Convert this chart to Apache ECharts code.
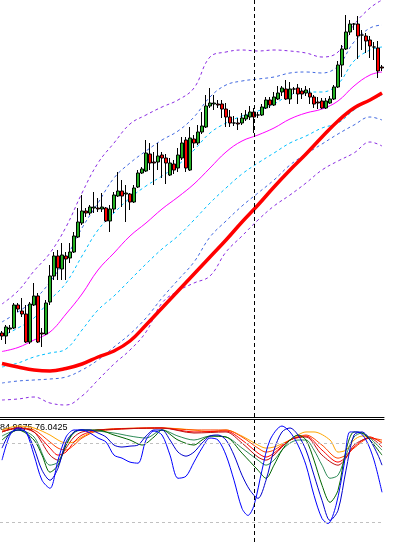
<!DOCTYPE html>
<html>
<head>
  <meta charset="utf-8">
  <script src="https://cdn.jsdelivr.net/npm/echarts@6/dist/echarts.min.js"></script>
  <style>
    html, body { margin: 0; padding: 0; background: #fff; }
    #chart { width: 397px; height: 542px; }
  </style>
</head>
<body>
  <div id="chart"></div>
  <script>
    // candles (price units, 96 bars)
    const openP = [84, 81, 88, 89, 112, 106, 103, 75, 112, 121, 84, 83, 115, 141, 161, 148, 161, 159, 165, 180,
      194, 206, 204, 209, 209, 208, 209, 196, 208, 221, 226, 223, 223, 215, 230, 244, 246, 263, 255, 255,
      262, 259, 242, 253, 249, 259, 277, 247, 278, 274, 285, 290, 311, 313, 313, 313, 308, 300, 294, 294,
      294, 298, 300, 305, 302, 302, 309, 317, 312, 318, 325, 328, 318, 328, 329, 326, 324, 324, 320, 315,
      316, 309, 314, 318, 330, 352, 368, 385, 393, 393, 382, 381, 377, 370, 369, 350]
    const closeP = [81, 90, 89, 112, 108, 103, 75, 113, 121, 75, 83, 114, 141, 161, 149, 162, 158, 165, 181, 195,
      206, 204, 210, 210, 208, 210, 196, 208, 222, 226, 221, 224, 215, 229, 244, 248, 264, 254, 254, 261,
      259, 254, 254, 247, 262, 274, 249, 279, 274, 285, 291, 311, 314, 314, 312, 308, 300, 294, 294, 293,
      299, 302, 305, 300, 302, 310, 317, 312, 320, 324, 329, 318, 328, 328, 323, 323, 327, 320, 313, 314,
      309, 316, 318, 330, 352, 368, 385, 393, 393, 381, 382, 376, 371, 370, 346, 349]
    const lowP = [77, 73, 84, 88, 105, 100, 74, 73, 111, 74, 70, 82, 112, 137, 137, 137, 137, 154, 164, 179,
      192, 200, 202, 204, 205, 205, 195, 185, 204, 220, 210, 195, 207, 214, 229, 243, 245, 247, 232, 247,
      239, 233, 241, 243, 245, 257, 245, 246, 269, 272, 283, 289, 309, 307, 309, 299, 290, 290, 291, 287,
      292, 296, 297, 284, 299, 301, 308, 309, 311, 317, 321, 317, 313, 323, 313, 318, 321, 313, 309, 308,
      308, 308, 313, 317, 329, 340, 367, 382, 387, 358, 367, 364, 359, 357, 339, 346]
    const highP = [86, 92, 92, 114, 114, 119, 112, 115, 134, 124, 89, 117, 152, 165, 167, 174, 165, 174, 185, 209,
      222, 209, 212, 225, 219, 224, 210, 212, 225, 245, 237, 232, 224, 232, 247, 250, 277, 274, 265, 274,
      265, 263, 259, 257, 269, 280, 280, 290, 282, 292, 305, 322, 329, 322, 317, 317, 314, 307, 301, 299,
      304, 307, 311, 309, 305, 313, 320, 320, 325, 331, 331, 337, 335, 330, 333, 329, 331, 329, 322, 320,
      319, 319, 321, 332, 356, 372, 402, 397, 394, 401, 387, 384, 381, 375, 376, 352]

    // indicator lines read every 4 bars
    const sampleBars = [0, 4, 8, 12, 16, 20, 24, 28, 32, 36, 40, 44, 48, 52, 56, 60, 64, 68, 72, 76, 80, 84, 88, 92, 95]
    const slowMA = [53.5, 50, 47, 46, 48.5, 53, 60, 66, 76, 92, 109, 126, 143, 160, 177, 195, 212, 230, 247, 263, 280, 296, 309, 317, 324]
    const midMA = [65.5, 69.5, 77, 85, 103, 123, 147, 164, 181, 194, 208, 220, 233, 249, 265, 276, 282, 289, 298, 304, 308, 316, 331, 342, 345]
    const band1Up = [81, 89, 99, 117, 134, 161, 187, 204, 219, 231, 241, 252, 267, 284, 294, 301, 306, 313, 322, 325, 325, 333, 356, 367, 370]
    const band1Dn = [50, 54, 60, 64, 68, 87, 107, 121, 137, 153, 168, 181, 197, 214, 229, 243, 254, 264, 274, 281, 289, 294, 307, 317, 322]
    const band2Up = [95, 105, 117, 135, 159, 189, 214, 239, 254, 266, 277, 286, 300, 320, 332, 336, 338, 340, 344, 345, 344, 351, 375, 389, 392]
    const band2Dn = [34, 36, 37, 38, 40, 47, 57, 70, 83, 99, 119, 137, 155, 180, 196, 211, 224, 237, 252, 263, 273, 283, 292, 300, 297]
    const band3Up = [113, 126, 146, 164, 190, 224, 254, 274, 293, 302, 310, 317, 329, 360, 365, 367, 366, 367, 366, 364, 360, 365, 392, 409, 417]
    const band3Dn = [17, 18, 20, 14, 12, 21, 37, 53, 67, 85, 114, 126, 134, 141, 165, 181, 197, 211, 222, 234, 247, 256, 264, 275, 271]

    // oscillator lines: [bar, value]
    const oscBlue1 = [[0, 66.9], [2, 85.9], [4, 91.2], [6, 88.2], [8, 70.7], [10, 51.7], [12, 45.6], [14, 66.9], [16, 84.4], [18, 89.7],
      [20, 89.7], [22, 87.4], [24, 83.6], [26, 80.6], [28, 70.7], [30, 68.4], [32, 65.4], [34, 64.6], [36, 82.1], [38, 88.9],
      [40, 85.9], [42, 70.7], [44, 53.2], [46, 54.7], [48, 65.4], [50, 76], [52, 83.6], [54, 82.1], [56, 70.7], [58, 51.7],
      [60, 30.4], [61.5, 25.1], [63, 32.7], [65, 59.3], [67, 82.1], [70, 92.7], [72, 88.2], [74, 78.3], [76, 63.1], [78, 40.3],
      [80, 22.8], [81.5, 19], [83.5, 32.7], [85.5, 63.1], [87, 88.2], [89, 88.2], [91, 82.1], [93, 66.9], [95, 42.6]]
    const oscBlue2 = [[0, 76], [2, 87.4], [4, 89.7], [6, 88.2], [8, 76], [10, 59.3], [12, 51.7], [14, 60.8], [16, 80.6], [18, 88.2],
      [20, 89.7], [22, 89.7], [24, 87.4], [26, 84.4], [28, 78.3], [30, 76.8], [32, 77.5], [34, 78.3], [36, 85.1], [38, 89.7],
      [40, 89.7], [42, 82.1], [44, 73], [46, 69.9], [48, 73], [50, 79.8], [52, 85.1], [54, 85.9], [56, 82.1], [58, 70.7],
      [60, 55.5], [62, 44.1], [64, 38], [66, 51.7], [68, 74.5], [70, 88.2], [72, 91.2], [74, 85.9], [76, 74.5], [78, 55.5],
      [80, 36.5], [82, 21.3], [84, 28.9], [86, 59.3], [88, 85.9], [90, 88.2], [92, 82.1], [94, 70.7], [95, 63.1]]
    const oscDarkGreen = [[0, 82.1], [4, 89.7], [8, 82.1], [10, 70.7], [12, 57.8], [14, 63.1], [16, 78.3], [18, 88.2], [20, 89.7], [24, 89.7],
      [28, 85.9], [32, 82.1], [35, 78.3], [38, 84.4], [40, 89.7], [44, 82.1], [48, 78.3], [50, 82.1], [52, 85.1], [56, 84.4],
      [60, 72.2], [64, 59.3], [66, 53.2], [68, 63.1], [70, 74.5], [72, 82.1], [74, 85.9], [76, 82.1], [78, 66.9], [80, 47.9],
      [82, 35], [84, 44.1], [86, 74.5], [88, 88.2], [90, 87.4], [92, 82.1], [95, 70.7]]
    const oscGreen = [[0, 85.1], [4, 89.7], [8, 84.4], [12, 63.1], [14, 65.4], [16, 78.3], [18, 87.4], [20, 89.7], [28, 87.4], [32, 85.1],
      [36, 83.6], [40, 89.7], [44, 85.1], [48, 82.1], [52, 85.1], [56, 84.4], [60, 76], [64, 66.9], [66, 63.1], [68, 66.9],
      [70, 74.5], [72, 79.8], [74, 82.1], [76, 82.1], [78, 74.5], [80, 63.1], [82, 53.2], [84, 55.5], [86, 70.7], [88, 84.4],
      [90, 87.4], [92, 83.6], [95, 74.5]]
    const oscDarkRed = [[0, 88.2], [4, 91.2], [8, 88.2], [12, 70.7], [14, 66.9], [16, 76], [18, 84.4], [20, 88.2], [24, 89.7], [40, 91.2],
      [48, 87.4], [56, 88.2], [60, 79.8], [64, 69.2], [66, 66.9], [68, 70.7], [72, 82.1], [76, 84.4], [80, 70.7], [84, 63.1],
      [86, 68.4], [88, 78.3], [92, 83.6], [95, 76.8]]
    const oscRed = [[0, 88.2], [4, 91.2], [8, 88.2], [12, 76], [14, 70.7], [16, 73], [18, 80.6], [20, 85.9], [24, 89.7], [40, 91.2],
      [48, 88.2], [56, 88.9], [60, 82.1], [64, 72.2], [66, 69.2], [68, 72.2], [72, 82.1], [76, 85.1], [80, 74.5], [84, 65.4],
      [86, 69.2], [88, 76.8], [92, 84.4], [95, 79.8]]
    const oscOrangeRed = [[0, 88.9], [4, 91.2], [8, 89.7], [12, 80.6], [14, 76], [16, 74.5], [18, 78.3], [20, 83.6], [24, 88.9], [40, 91.2],
      [48, 89.7], [56, 89.7], [60, 84.4], [64, 76], [66, 73], [68, 74.5], [72, 82.1], [76, 85.9], [80, 78.3], [84, 68.4],
      [86, 70.7], [88, 76], [92, 83.6], [95, 82.1]]
    const oscOrange = [[0, 89.7], [4, 92.7], [8, 91.2], [12, 85.9], [14, 82.1], [16, 79.8], [18, 80.6], [20, 84.4], [24, 89.7], [40, 91.2],
      [48, 89.7], [52, 88.2], [56, 89.7], [60, 85.1], [64, 78.3], [66, 76], [68, 76.8], [72, 82.1], [76, 88.2], [78, 88.2],
      [82, 82.1], [84, 73], [86, 74.5], [88, 82.1], [90, 85.1], [92, 84.4], [95, 80.6]]
    const oscLevels = [80, 20]
    const markerBar = 63
    const oscText = '84.9675 76.0425'

    const barNames = openP.map((_, i) => String(i))
    const candles = openP.map((o, i) => [o, closeP[i], lowP[i], highP[i]])
    const onSamples = arr => sampleBars.map((b, k) => [b, arr[k]])

    const vLine = {
      silent: true,
      symbol: 'none',
      label: { show: false },
      lineStyle: { color: '#000', type: [4, 3], width: 1 },
      data: [{ xAxis: markerBar }]
    }

    function band(data, color, dash) {
      return {
        type: 'line',
        data: onSamples(data),
        symbol: 'none',
        smooth: 0.4,
        z: 2,
        lineStyle: { color: color, width: 1, type: dash ? [3, 3] : 'solid' }
      }
    }

    function osc(data, color) {
      return {
        type: 'line',
        xAxisIndex: 1,
        yAxisIndex: 1,
        data: data,
        symbol: 'none',
        smooth: 0.3,
        lineStyle: { color: color, width: 1 }
      }
    }

    const option = {
      animation: false,
      backgroundColor: '#fff',
      grid: [
        { left: 0, right: 13, top: 0, height: 417 },
        { left: 0, right: 13, top: 419, bottom: 0 }
      ],
      xAxis: [{
        type: 'category',
        data: barNames,
        gridIndex: 0,
        position: 'bottom',
        axisLine: { onZero: false, lineStyle: { color: '#000', width: 1 } },
        axisTick: { show: false },
        axisLabel: { show: false },
        splitLine: { show: false }
      }, {
        type: 'value',
        gridIndex: 1,
        min: -0.5,
        max: 95.5,
        position: 'top',
        axisLine: { onZero: false, lineStyle: { color: '#000', width: 1 } },
        axisTick: { show: false },
        axisLabel: { show: false },
        splitLine: { show: false }
      }],
      yAxis: [{
        type: 'value', gridIndex: 0, min: 0, max: 417, show: false
      }, {
        type: 'value', gridIndex: 1, min: 5, max: 98, show: false
      }],
      graphic: [{
        type: 'text',
        left: 0,
        top: 423,
        z: 0,
        style: { text: oscText, fill: '#000', font: '9px "Liberation Sans", Arial, sans-serif' }
      }],
      series: [
        band(band3Up, '#8a2be2', true),
        band(band3Dn, '#8a2be2', true),
        band(band2Up, '#4169e1', true),
        band(band2Dn, '#4169e1', true),
        band(band1Up, '#00bfff', true),
        band(band1Dn, '#00bfff', true),
        band(midMA, '#ff00ff', false),
        {
          type: 'line',
          data: onSamples(slowMA),
          symbol: 'none',
          smooth: 0.4,
          z: 3,
          lineStyle: { color: '#ff0000', width: 3.5 }
        },
        {
          type: 'candlestick',
          data: candles,
          barWidth: 3,
          z: 4,
          itemStyle: {
            color: '#22b022',
            color0: '#ff0000',
            borderColor: '#000',
            borderColor0: '#000',
            borderWidth: 1
          },
          markLine: vLine
        },
        osc(oscOrange, '#ffa500'),
        osc(oscOrangeRed, '#ff4500'),
        osc(oscRed, '#ff0000'),
        osc(oscDarkRed, '#c01010'),
        osc(oscGreen, '#2e8b57'),
        osc(oscDarkGreen, '#006400'),
        osc(oscBlue2, '#0000cd'),
        Object.assign(osc(oscBlue1, '#0000ff'), {
          markLine: {
            silent: true,
            symbol: 'none',
            label: { show: false },
            data: [
              { xAxis: markerBar, lineStyle: { color: '#000', type: [4, 3], width: 1 } },
              ...oscLevels.map(v => ({ yAxis: v, lineStyle: { color: '#c0c0c0', type: [3, 3], width: 1 } }))
            ]
          }
        })
      ]
    }

    const chart = echarts.init(document.getElementById('chart'))
    chart.setOption(option)
  </script>
</body>
</html>
